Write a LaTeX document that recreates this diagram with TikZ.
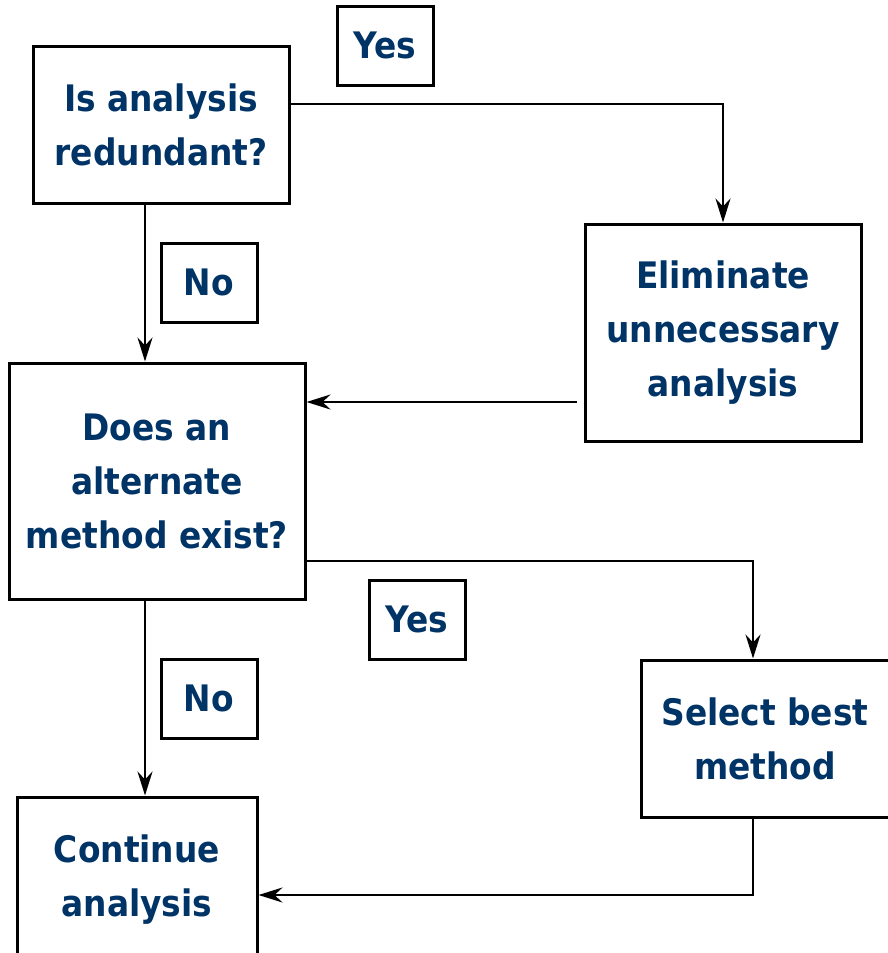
\documentclass[tikz,border=0pt]{standalone}
\usepackage{fontspec}
\setmainfont{DejaVu Sans Condensed}[BoldFont=* Bold]
\usetikzlibrary{arrows.meta}
\definecolor{txtblue}{RGB}{0,51,102}
\tikzset{
  box/.style={draw, line width=3pt, inner sep=0pt, align=center, text=txtblue,
    font=\bfseries\fontsize{36.5}{54}\selectfont},
  lbl/.style={box, minimum width=96pt, minimum height=79pt},
  arr/.style={line width=2.4pt, -{Stealth[length=24pt, width=15pt, inset=8pt]}}
}
\begin{document}
\begin{tikzpicture}[x=1pt, y=-1pt]
\useasboundingbox (0,0) rectangle (887,953);
% helper coordinates
\coordinate (v1) at (145,0);
\coordinate (v753) at (753,0);
\coordinate (h104) at (0,104);
\coordinate (h402) at (0,402);
\coordinate (h561) at (0,561);
\coordinate (h895) at (0,895);
% nodes
\node[box, minimum width=256pt, minimum height=157pt] (q1) at (161,124.5) {Is analysis\\redundant?};
\node[lbl] (yes1) at (385,45.5) {Yes};
\node[box, minimum width=276pt, minimum height=217pt] (b2) at (723,332.5) {Eliminate\\unnecessary\\analysis};
\node[lbl] (no1) at (209,282.5) {No};
\node[box, minimum width=296pt, minimum height=236pt] (q2) at (157,481) {Does an\\alternate\\method exist?};
\node[lbl] (yes2) at (417,619.5) {Yes};
\node[lbl] (no2) at (209,698.5) {No};
\node[box, minimum width=248pt, minimum height=157pt] (b4) at (765,738.5) {Select best\\method};
\node[box, minimum width=240pt, minimum height=166pt] (b5) at (137,880) {Continue\\analysis};
% connectors
\draw[arr] (q1.east |- h104) -| (b2.north);
\draw[arr] (q1.south -| v1) -- (q2.north -| v1);
\draw[arr, shorten <=7pt] (b2.west |- h402) -- (q2.east |- h402);
\draw[arr] (q2.east |- h561) -| (v753 |- b4.north);
\draw[arr] (q2.south -| v1) -- (b5.north -| v1);
\draw[arr] (v753 |- b4.south) |- (b5.east |- h895);
\end{tikzpicture}
\end{document}
